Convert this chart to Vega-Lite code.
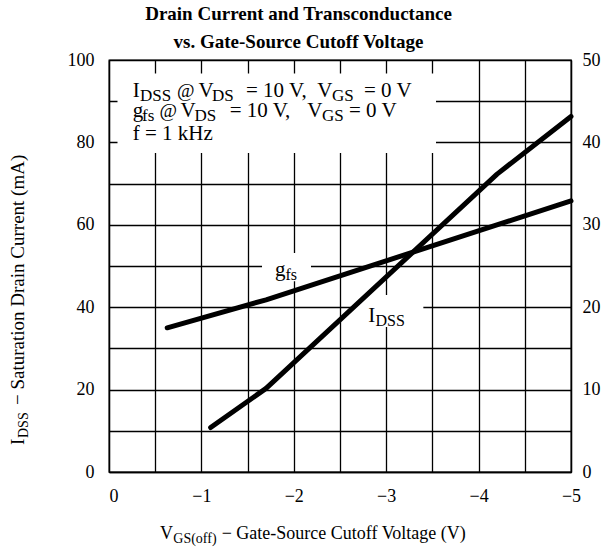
{
  "$schema": "https://vega.github.io/schema/vega-lite/v6.json",
  "width": 462,
  "height": 412,
  "autosize": {"type": "none"},
  "padding": {"left": 109, "top": 60, "right": 37, "bottom": 78},
  "background": "white",
  "title": {
    "text": ["Drain Current and Transconductance", "vs. Gate-Source Cutoff Voltage"],
    "font": "Liberation Serif",
    "fontSize": 19,
    "fontWeight": "bold",
    "color": "black",
    "anchor": "middle",
    "frame": "bounds",
    "lineHeight": 28,
    "offset": -1,
    "dx": -6
  },
  "config": {
    "view": {"stroke": "black", "strokeWidth": 1.3},
    "axis": {
      "labelFont": "Liberation Serif",
      "labelFontSize": 18,
      "labelColor": "black",
      "domainColor": "black",
      "domainWidth": 1.3,
      "gridColor": "black",
      "gridOpacity": 1,
      "gridWidth": 1.3,
      "ticks": false
    }
  },
  "datasets": {
    "idss": [
      {"vgs": -1.1, "idss": 10.8},
      {"vgs": -1.7, "idss": 20.3},
      {"vgs": -4.2, "idss": 72.3},
      {"vgs": -5.0, "idss": 86.3}
    ],
    "gfs": [
      {"vgs": -0.63, "gfs": 17.5},
      {"vgs": -1.7, "gfs": 20.9},
      {"vgs": -5.0, "gfs": 32.9}
    ]
  },
  "layer": [
    {
      "data": {"name": "gfs"},
      "mark": {"type": "line", "color": "black", "strokeWidth": 5, "strokeCap": "round", "strokeJoin": "round"},
      "encoding": {
        "x": {"field": "vgs", "type": "quantitative", "scale": {"domain": [0, -5], "nice": false},
          "axis": {"values": [0, -0.5, -1, -1.5, -2, -2.5, -3, -3.5, -4, -4.5, -5], "labelExpr": "datum.value % 1 == 0 ? format(datum.value, 'd') : ''", "grid": true, "title": null, "labelPadding": 15, "labelAlign": {"condition": {"test": "datum.value == 0", "value": "left"}, "value": "center"}}},
        "y": {"field": "gfs", "type": "quantitative", "scale": {"domain": [0, 50], "nice": false},
          "axis": {"orient": "right", "values": [0, 10, 20, 30, 40, 50], "grid": false, "title": null, "labelPadding": 11}}
      }
    },
    {
      "layer": [
        {
          "data": {"values": [{}]},
          "mark": {"type": "rect", "color": "white"},
          "encoding": {
            "x": {"datum": -0.092, "type": "quantitative", "scale": {"domain": [0, -5], "nice": false}},
            "x2": {"datum": -3.539},
            "y": {"datum": 96.7, "type": "quantitative", "scale": {"domain": [0, 100], "nice": false},
              "axis": {"values": [0, 10, 20, 30, 40, 50, 60, 70, 80, 90, 100], "labelExpr": "datum.value % 20 == 0 ? datum.label : ''", "grid": true, "title": null, "labelPadding": 15}},
            "y2": {"datum": 77.4}
          }
        },
        {
          "data": {"values": [{}]},
          "mark": {"type": "rect", "color": "white"},
          "encoding": {
            "x": {"datum": -1.656, "type": "quantitative", "scale": {"domain": [0, -5], "nice": false}},
            "x2": {"datum": -2.186},
            "y": {"datum": 53.16, "type": "quantitative", "scale": {"domain": [0, 100], "nice": false}},
            "y2": {"datum": 46.3}
          }
        },
        {
          "data": {"values": [{}]},
          "mark": {"type": "rect", "color": "white"},
          "encoding": {
            "x": {"datum": -2.662, "type": "quantitative", "scale": {"domain": [0, -5], "nice": false}},
            "x2": {"datum": -3.402},
            "y": {"datum": 42.96, "type": "quantitative", "scale": {"domain": [0, 100], "nice": false}},
            "y2": {"datum": 35.19}
          }
        },
        {
          "data": {"name": "idss"},
          "mark": {"type": "line", "color": "black", "strokeWidth": 5, "strokeCap": "round", "strokeJoin": "round"},
          "encoding": {
            "x": {"field": "vgs", "type": "quantitative", "scale": {"domain": [0, -5], "nice": false}},
            "y": {"field": "idss", "type": "quantitative", "scale": {"domain": [0, 100], "nice": false}}
          }
        },
        {"data": {"values": [{}]}, "mark": {"type": "text", "text": "I", "font": "Liberation Serif", "fontSize": 21, "align": "left", "baseline": "alphabetic", "color": "black"},
          "encoding": {"x": {"datum": -0.2565, "type": "quantitative", "scale": {"domain": [0, -5], "nice": false}}, "y": {"datum": 91.09, "type": "quantitative", "scale": {"domain": [0, 100], "nice": false}}}},
        {"data": {"values": [{}]}, "mark": {"type": "text", "text": "DSS", "font": "Liberation Serif", "fontSize": 17, "align": "left", "baseline": "alphabetic", "color": "black"},
          "encoding": {"x": {"datum": -0.3355, "type": "quantitative", "scale": {"domain": [0, -5], "nice": false}}, "y": {"datum": 90.05, "type": "quantitative", "scale": {"domain": [0, 100], "nice": false}}}},
        {"data": {"values": [{}]}, "mark": {"type": "text", "text": "@", "font": "Liberation Serif", "fontSize": 19, "align": "left", "baseline": "alphabetic", "color": "black"},
          "encoding": {"x": {"datum": -0.7359, "type": "quantitative", "scale": {"domain": [0, -5], "nice": false}}, "y": {"datum": 91.09, "type": "quantitative", "scale": {"domain": [0, 100], "nice": false}}}},
        {"data": {"values": [{}]}, "mark": {"type": "text", "text": "V", "font": "Liberation Serif", "fontSize": 21, "align": "left", "baseline": "alphabetic", "color": "black"},
          "encoding": {"x": {"datum": -0.9686, "type": "quantitative", "scale": {"domain": [0, -5], "nice": false}}, "y": {"datum": 91.09, "type": "quantitative", "scale": {"domain": [0, 100], "nice": false}}}},
        {"data": {"values": [{}]}, "mark": {"type": "text", "text": "DS", "font": "Liberation Serif", "fontSize": 17, "align": "left", "baseline": "alphabetic", "color": "black"},
          "encoding": {"x": {"datum": -1.1147, "type": "quantitative", "scale": {"domain": [0, -5], "nice": false}}, "y": {"datum": 90.05, "type": "quantitative", "scale": {"domain": [0, 100], "nice": false}}}},
        {"data": {"values": [{}]}, "mark": {"type": "text", "text": "= 10 V,", "font": "Liberation Serif", "fontSize": 21, "align": "left", "baseline": "alphabetic", "color": "black"},
          "encoding": {"x": {"datum": -1.483, "type": "quantitative", "scale": {"domain": [0, -5], "nice": false}}, "y": {"datum": 91.09, "type": "quantitative", "scale": {"domain": [0, 100], "nice": false}}}},
        {"data": {"values": [{}]}, "mark": {"type": "text", "text": "V", "font": "Liberation Serif", "fontSize": 21, "align": "left", "baseline": "alphabetic", "color": "black"},
          "encoding": {"x": {"datum": -2.2543, "type": "quantitative", "scale": {"domain": [0, -5], "nice": false}}, "y": {"datum": 91.09, "type": "quantitative", "scale": {"domain": [0, 100], "nice": false}}}},
        {"data": {"values": [{}]}, "mark": {"type": "text", "text": "GS", "font": "Liberation Serif", "fontSize": 17, "align": "left", "baseline": "alphabetic", "color": "black"},
          "encoding": {"x": {"datum": -2.4134, "type": "quantitative", "scale": {"domain": [0, -5], "nice": false}}, "y": {"datum": 90.05, "type": "quantitative", "scale": {"domain": [0, 100], "nice": false}}}},
        {"data": {"values": [{}]}, "mark": {"type": "text", "text": "= 0 V", "font": "Liberation Serif", "fontSize": 21, "align": "left", "baseline": "alphabetic", "color": "black"},
          "encoding": {"x": {"datum": -2.7598, "type": "quantitative", "scale": {"domain": [0, -5], "nice": false}}, "y": {"datum": 91.09, "type": "quantitative", "scale": {"domain": [0, 100], "nice": false}}}},
        {"data": {"values": [{}]}, "mark": {"type": "text", "text": "g", "font": "Liberation Serif", "fontSize": 21, "align": "left", "baseline": "alphabetic", "color": "black"},
          "encoding": {"x": {"datum": -0.2565, "type": "quantitative", "scale": {"domain": [0, -5], "nice": false}}, "y": {"datum": 86.24, "type": "quantitative", "scale": {"domain": [0, 100], "nice": false}}}},
        {"data": {"values": [{}]}, "mark": {"type": "text", "text": "fs", "font": "Liberation Serif", "fontSize": 17, "align": "left", "baseline": "alphabetic", "color": "black"},
          "encoding": {"x": {"datum": -0.3571, "type": "quantitative", "scale": {"domain": [0, -5], "nice": false}}, "y": {"datum": 85.19, "type": "quantitative", "scale": {"domain": [0, 100], "nice": false}}}},
        {"data": {"values": [{}]}, "mark": {"type": "text", "text": "@", "font": "Liberation Serif", "fontSize": 19, "align": "left", "baseline": "alphabetic", "color": "black"},
          "encoding": {"x": {"datum": -0.5465, "type": "quantitative", "scale": {"domain": [0, -5], "nice": false}}, "y": {"datum": 86.24, "type": "quantitative", "scale": {"domain": [0, 100], "nice": false}}}},
        {"data": {"values": [{}]}, "mark": {"type": "text", "text": "V", "font": "Liberation Serif", "fontSize": 21, "align": "left", "baseline": "alphabetic", "color": "black"},
          "encoding": {"x": {"datum": -0.7738, "type": "quantitative", "scale": {"domain": [0, -5], "nice": false}}, "y": {"datum": 86.24, "type": "quantitative", "scale": {"domain": [0, 100], "nice": false}}}},
        {"data": {"values": [{}]}, "mark": {"type": "text", "text": "DS", "font": "Liberation Serif", "fontSize": 17, "align": "left", "baseline": "alphabetic", "color": "black"},
          "encoding": {"x": {"datum": -0.9253, "type": "quantitative", "scale": {"domain": [0, -5], "nice": false}}, "y": {"datum": 85.19, "type": "quantitative", "scale": {"domain": [0, 100], "nice": false}}}},
        {"data": {"values": [{}]}, "mark": {"type": "text", "text": "= 10 V,", "font": "Liberation Serif", "fontSize": 21, "align": "left", "baseline": "alphabetic", "color": "black"},
          "encoding": {"x": {"datum": -1.3063, "type": "quantitative", "scale": {"domain": [0, -5], "nice": false}}, "y": {"datum": 86.24, "type": "quantitative", "scale": {"domain": [0, 100], "nice": false}}}},
        {"data": {"values": [{}]}, "mark": {"type": "text", "text": "V", "font": "Liberation Serif", "fontSize": 21, "align": "left", "baseline": "alphabetic", "color": "black"},
          "encoding": {"x": {"datum": -2.1461, "type": "quantitative", "scale": {"domain": [0, -5], "nice": false}}, "y": {"datum": 86.24, "type": "quantitative", "scale": {"domain": [0, 100], "nice": false}}}},
        {"data": {"values": [{}]}, "mark": {"type": "text", "text": "GS", "font": "Liberation Serif", "fontSize": 17, "align": "left", "baseline": "alphabetic", "color": "black"},
          "encoding": {"x": {"datum": -2.3052, "type": "quantitative", "scale": {"domain": [0, -5], "nice": false}}, "y": {"datum": 85.19, "type": "quantitative", "scale": {"domain": [0, 100], "nice": false}}}},
        {"data": {"values": [{}]}, "mark": {"type": "text", "text": "= 0 V", "font": "Liberation Serif", "fontSize": 21, "align": "left", "baseline": "alphabetic", "color": "black"},
          "encoding": {"x": {"datum": -2.5974, "type": "quantitative", "scale": {"domain": [0, -5], "nice": false}}, "y": {"datum": 86.24, "type": "quantitative", "scale": {"domain": [0, 100], "nice": false}}}},
        {"data": {"values": [{}]}, "mark": {"type": "text", "text": "f = 1 kHz", "font": "Liberation Serif", "fontSize": 21, "align": "left", "baseline": "alphabetic", "color": "black"},
          "encoding": {"x": {"datum": -0.2565, "type": "quantitative", "scale": {"domain": [0, -5], "nice": false}}, "y": {"datum": 80.58, "type": "quantitative", "scale": {"domain": [0, 100], "nice": false}}}},
        {"data": {"values": [{}]}, "mark": {"type": "text", "text": "g", "font": "Liberation Serif", "fontSize": 21, "align": "left", "baseline": "alphabetic", "color": "black"},
          "encoding": {"x": {"datum": -1.7965, "type": "quantitative", "scale": {"domain": [0, -5], "nice": false}}, "y": {"datum": 47.57, "type": "quantitative", "scale": {"domain": [0, 100], "nice": false}}}},
        {"data": {"values": [{}]}, "mark": {"type": "text", "text": "fs", "font": "Liberation Serif", "fontSize": 16, "align": "left", "baseline": "alphabetic", "color": "black"},
          "encoding": {"x": {"datum": -1.9102, "type": "quantitative", "scale": {"domain": [0, -5], "nice": false}}, "y": {"datum": 46.6, "type": "quantitative", "scale": {"domain": [0, 100], "nice": false}}}},
        {"data": {"values": [{}]}, "mark": {"type": "text", "text": "I", "font": "Liberation Serif", "fontSize": 21, "align": "left", "baseline": "alphabetic", "color": "black"},
          "encoding": {"x": {"datum": -2.8063, "type": "quantitative", "scale": {"domain": [0, -5], "nice": false}}, "y": {"datum": 36.48, "type": "quantitative", "scale": {"domain": [0, 100], "nice": false}}}},
        {"data": {"values": [{}]}, "mark": {"type": "text", "text": "DSS", "font": "Liberation Serif", "fontSize": 16, "align": "left", "baseline": "alphabetic", "color": "black"},
          "encoding": {"x": {"datum": -2.8842, "type": "quantitative", "scale": {"domain": [0, -5], "nice": false}}, "y": {"datum": 35.5, "type": "quantitative", "scale": {"domain": [0, 100], "nice": false}}}},
        {"data": {"values": [{}]}, "mark": {"type": "text", "text": "V", "font": "Liberation Serif", "fontSize": 18, "align": "left", "baseline": "alphabetic", "color": "black"},
          "encoding": {"x": {"datum": -0.552, "type": "quantitative", "scale": {"domain": [0, -5], "nice": false}}, "y": {"datum": -16.2, "type": "quantitative", "scale": {"domain": [0, 100], "nice": false}}}},
        {"data": {"values": [{}]}, "mark": {"type": "text", "text": "GS(off)", "font": "Liberation Serif", "fontSize": 14, "align": "left", "baseline": "alphabetic", "color": "black"},
          "encoding": {"x": {"datum": -0.696, "type": "quantitative", "scale": {"domain": [0, -5], "nice": false}}, "y": {"datum": -17.2, "type": "quantitative", "scale": {"domain": [0, 100], "nice": false}}}},
        {"data": {"values": [{}]}, "mark": {"type": "text", "text": "− Gate-Source Cutoff Voltage (V)", "font": "Liberation Serif", "fontSize": 18, "align": "left", "baseline": "alphabetic", "color": "black"},
          "encoding": {"x": {"datum": -1.2197, "type": "quantitative", "scale": {"domain": [0, -5], "nice": false}}, "y": {"datum": -16.2, "type": "quantitative", "scale": {"domain": [0, 100], "nice": false}}}},
        {"data": {"values": [{}]}, "mark": {"type": "text", "text": "I", "angle": 270, "font": "Liberation Serif", "fontSize": 19, "align": "left", "baseline": "alphabetic", "color": "black"},
          "encoding": {"x": {"datum": 0.92, "type": "quantitative", "scale": {"domain": [0, -5], "nice": false}}, "y": {"datum": 6.55, "type": "quantitative", "scale": {"domain": [0, 100], "nice": false}}}},
        {"data": {"values": [{}]}, "mark": {"type": "text", "text": "DSS", "angle": 270, "font": "Liberation Serif", "fontSize": 14, "align": "left", "baseline": "alphabetic", "color": "black"},
          "encoding": {"x": {"datum": 0.877, "type": "quantitative", "scale": {"domain": [0, -5], "nice": false}}, "y": {"datum": 8.25, "type": "quantitative", "scale": {"domain": [0, 100], "nice": false}}}},
        {"data": {"values": [{}]}, "mark": {"type": "text", "text": "− Saturation Drain Current (mA)", "angle": 270, "font": "Liberation Serif", "fontSize": 19, "align": "left", "baseline": "alphabetic", "color": "black"},
          "encoding": {"x": {"datum": 0.92, "type": "quantitative", "scale": {"domain": [0, -5], "nice": false}}, "y": {"datum": 16.26, "type": "quantitative", "scale": {"domain": [0, 100], "nice": false}}}}
      ]
    }
  ],
  "resolve": {"scale": {"y": "independent"}, "axis": {"y": "independent"}}
}
